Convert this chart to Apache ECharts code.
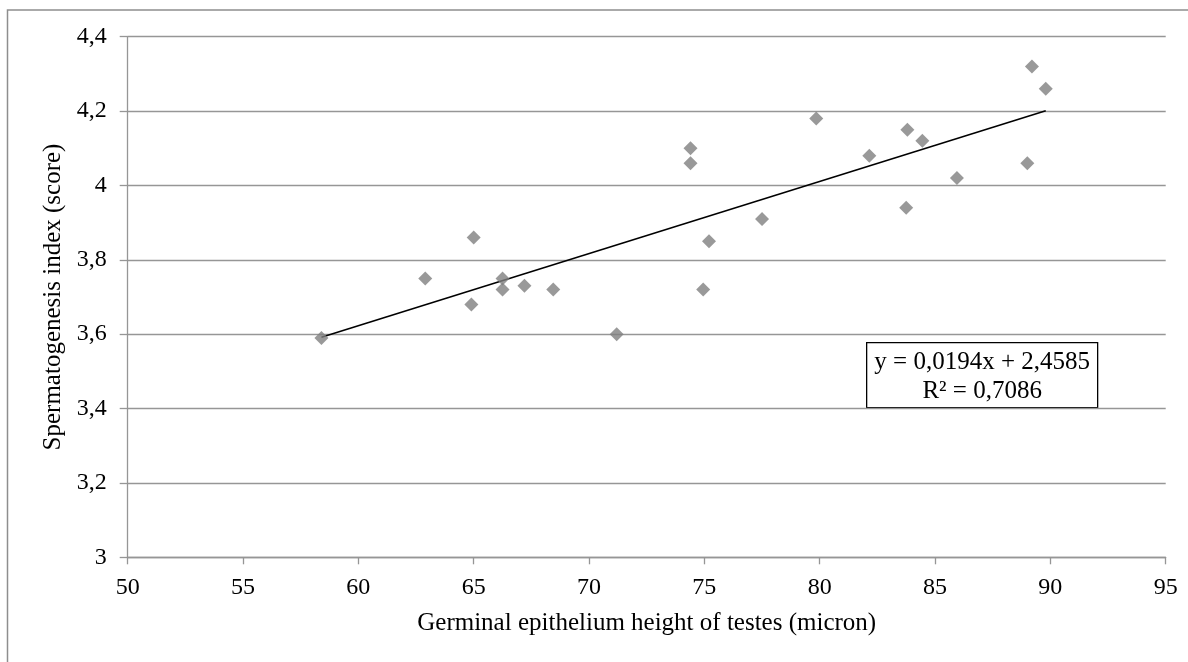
<!DOCTYPE html>
<html>
<head>
<meta charset="utf-8">
<script src="https://cdn.jsdelivr.net/npm/echarts@6/dist/echarts.min.js"></script>
<style>
  html, body { margin: 0; padding: 0; background: #fff; }
  #chart { width: 1188px; height: 662px; }
</style>
</head>
<body>
<div id="chart"></div>
<script>
// Germinal epithelium height (micron) vs spermatogenesis index (score)
const epitheliumHeight = [58.4, 62.9, 65.0, 64.9, 66.25, 66.25, 67.2, 68.45, 71.2, 74.4, 74.4,
  74.95, 75.2, 77.5, 79.85, 82.15, 83.8, 84.45, 83.75, 85.95, 89.0, 89.2, 89.8];
const spermIndex = [3.59, 3.75, 3.86, 3.68, 3.75, 3.72, 3.73, 3.72, 3.60, 4.10, 4.06,
  3.72, 3.85, 3.91, 4.18, 4.08, 4.15, 4.12, 3.94, 4.02, 4.06, 4.32, 4.26];

// Linear trendline coefficients and fit statistic
const slope = 0.0194;
const intercept = 2.4585;
const rSquared = 0.7086;

const xTicks = [50, 55, 60, 65, 70, 75, 80, 85, 90, 95];
const yTicks = [3, 3.2, 3.4, 3.6, 3.8, 4, 4.2, 4.4];

const fmt = (v, d) => v.toFixed(d).replace('.', ',');

const points = epitheliumHeight.map((x, i) => [x, spermIndex[i]]);
const xMin = Math.min(...epitheliumHeight);
const xMax = Math.max(...epitheliumHeight);
const trend = [[xMin, slope * xMin + intercept], [xMax, slope * xMax + intercept]];

const serif = "'Liberation Serif', 'Times New Roman', serif";
const gridGray = '#969696';
const tickFs = 24;
const titleFs = 25;

const chart = echarts.init(document.getElementById('chart'));
chart.setOption({
  animation: false,
  backgroundColor: '#fff',
  textStyle: { fontFamily: serif },
  grid: { left: 127.7, right: 22.3, top: 36.7, bottom: 104.7, containLabel: false },
  xAxis: {
    type: 'value',
    min: xTicks[0],
    max: xTicks[xTicks.length - 1],
    interval: 5,
    name: 'Germinal epithelium height of testes (micron)',
    nameLocation: 'middle',
    nameGap: 54,
    nameTextStyle: { fontFamily: serif, fontSize: titleFs, color: '#000' },
    axisLine: { show: true, onZero: false, lineStyle: { color: gridGray, width: 1.3 } },
    axisTick: { show: true, inside: false, length: 7, lineStyle: { color: gridGray, width: 1.3 } },
    axisLabel: { fontFamily: serif, fontSize: tickFs, color: '#000', margin: 18 },
    splitLine: { show: false }
  },
  yAxis: {
    type: 'value',
    min: yTicks[0],
    max: yTicks[yTicks.length - 1],
    interval: 0.2,
    name: 'Spermatogenesis index (score)',
    nameLocation: 'middle',
    nameGap: 61,
    nameRotate: 90,
    nameTextStyle: { fontFamily: serif, fontSize: titleFs, color: '#000' },
    axisLine: { show: true, lineStyle: { color: gridGray, width: 1.3 } },
    axisTick: { show: true, inside: false, length: 8, lineStyle: { color: gridGray, width: 1.3 } },
    axisLabel: {
      fontFamily: serif, fontSize: tickFs, color: '#000', margin: 21,
      formatter: v => {
        const r = Math.round(v * 10) / 10;
        return Number.isInteger(r) ? String(r) : fmt(r, 1);
      }
    },
    splitLine: { show: true, lineStyle: { color: gridGray, width: 1.3 } }
  },
  series: [
    {
      type: 'line',
      data: trend,
      symbol: 'none',
      lineStyle: { color: '#000', width: 1.6 },
      z: 3
    },
    {
      type: 'scatter',
      data: points,
      symbol: 'diamond',
      symbolSize: 14,
      itemStyle: { color: '#7f7f7f' },
      z: 4
    }
  ],
  graphic: [
    {
      type: 'rect',
      shape: { x: 7.5, y: 10, width: 1300, height: 800 },
      style: { fill: 'none', stroke: '#8e8e8e', lineWidth: 1.5 },
      silent: true,
      z: 0
    },
    {
      type: 'group',
      left: 866,
      top: 342,
      z: 10,
      children: [
        {
          type: 'rect',
          shape: { x: 0, y: 0, width: 231, height: 65 },
          style: { fill: '#fff', stroke: '#000', lineWidth: 1.3 }
        },
        {
          type: 'text',
          x: 115.5, y: 20,
          style: {
            text: 'y = ' + fmt(slope, 4) + 'x + ' + fmt(intercept, 4),
            font: titleFs + 'px ' + serif, fill: '#000', align: 'center', verticalAlign: 'middle'
          }
        },
        {
          type: 'text',
          x: 115.5, y: 49,
          style: {
            text: 'R² = ' + fmt(rSquared, 4),
            font: titleFs + 'px ' + serif, fill: '#000', align: 'center', verticalAlign: 'middle'
          }
        }
      ]
    }
  ]
});
</script>
</body>
</html>
